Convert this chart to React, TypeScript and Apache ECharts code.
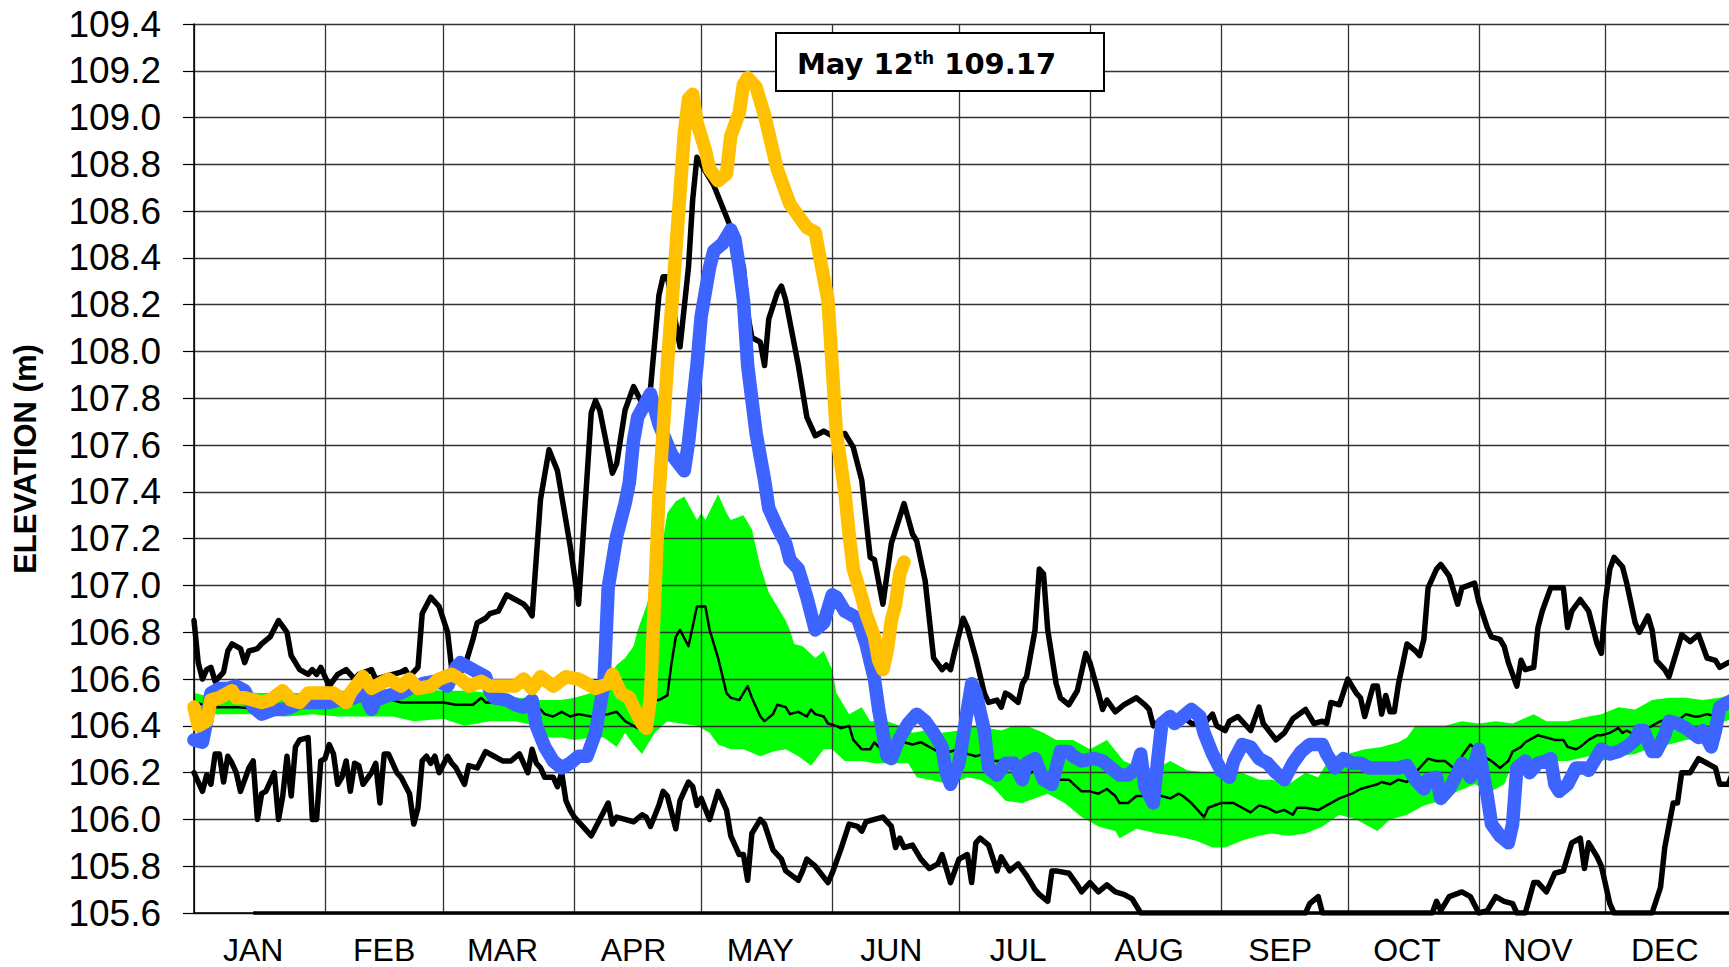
import React, { useEffect, useRef } from "react";
import * as echarts from "echarts";

// ---- axis definitions ----
const monthNames = ["JAN", "FEB", "MAR", "APR", "MAY", "JUN", "JUL", "AUG", "SEP", "OCT", "NOV", "DEC"];
const monthStarts = [0, 31, 59, 90, 120, 151, 181, 212, 243, 273, 304, 334];
const yMin = 105.6;
const yMax = 109.4;
const yStep = 0.2;
const xMax = 363.2;

// ---- annotation ----
const noteDate = "May 12";
const noteSuffix = "th";
const noteValue = "109.17";

// ---- data: [day of year, elevation m] ----
const maxLine: [number, number][] = [
  [0, 106.85], [1, 106.67], [2, 106.6], [3, 106.64], [4, 106.65], [5, 106.59], [7, 106.63], [8, 106.72], [9, 106.75],
  [11, 106.73], [12, 106.67], [13, 106.72], [15, 106.73], [16, 106.75], [18, 106.78], [20, 106.85], [22, 106.8],
  [23, 106.7], [25, 106.64], [27, 106.62], [28, 106.64], [29, 106.62], [30, 106.65], [32, 106.57], [34, 106.62],
  [36, 106.64], [38, 106.6], [39, 106.62], [42, 106.64], [43, 106.6], [45, 106.61], [47, 106.62], [49, 106.63],
  [50, 106.64], [51, 106.61], [53, 106.65], [54, 106.88], [56, 106.95], [58, 106.91], [60, 106.8], [61, 106.64],
  [62, 106.61], [64, 106.65], [66, 106.77], [67, 106.84], [69, 106.86], [70, 106.88], [72, 106.89], [74, 106.96],
  [76, 106.94], [78, 106.92], [79, 106.9], [80, 106.87], [81, 107.12], [82, 107.37], [84, 107.58], [86, 107.49],
  [89, 107.17], [91, 106.92], [94, 107.74], [95, 107.79], [96, 107.75], [99, 107.48], [100, 107.52], [102, 107.75],
  [104, 107.85], [106, 107.78], [108, 107.84], [110, 108.24], [111, 108.32], [112, 108.32], [115, 108.02],
  [117, 108.36], [118, 108.65], [119, 108.83], [123, 108.71], [127, 108.53], [130, 108.36], [131, 108.16],
  [132, 108.06], [134, 108.04], [135, 107.94], [136, 108.14], [138, 108.25], [139, 108.28], [140, 108.22],
  [143, 107.94], [145, 107.72], [147, 107.64], [149, 107.66], [151, 107.64], [154, 107.65], [156, 107.59],
  [158, 107.45], [160, 107.12], [161, 107.11], [163, 106.92], [165, 107.18], [168, 107.35], [170, 107.22],
  [171, 107.19], [173, 107.02], [175, 106.69], [177, 106.64], [178, 106.66], [179, 106.64], [180, 106.72],
  [182, 106.86], [183, 106.82], [185, 106.69], [187, 106.54], [188, 106.5], [190, 106.51], [191, 106.48],
  [192, 106.54], [193, 106.53], [195, 106.5], [196, 106.58], [197, 106.61], [199, 106.81], [200, 107.07],
  [201, 107.05], [202, 106.81], [204, 106.58], [205, 106.52], [207, 106.49], [209, 106.55], [211, 106.71],
  [212, 106.67], [214, 106.54], [215, 106.47], [216, 106.51], [218, 106.46], [220, 106.49], [223, 106.52],
  [225, 106.49], [226, 106.47], [227, 106.4], [229, 106.43], [232, 106.42], [234, 106.44], [236, 106.41],
  [239, 106.41], [241, 106.45], [242, 106.4], [244, 106.38], [245, 106.42], [247, 106.44], [250, 106.38],
  [252, 106.48], [253, 106.41], [256, 106.34], [258, 106.37], [260, 106.43], [263, 106.47], [265, 106.41],
  [267, 106.42], [268, 106.41], [269, 106.5], [271, 106.49], [273, 106.6], [275, 106.54], [276, 106.52],
  [277, 106.44], [279, 106.57], [280, 106.57], [281, 106.45], [282, 106.53], [283, 106.46], [284, 106.46],
  [285, 106.58], [287, 106.75], [289, 106.72], [290, 106.7], [291, 106.77], [292, 106.99], [294, 107.07],
  [295, 107.09], [297, 107.04], [299, 106.92], [300, 106.99], [303, 107.01], [304, 106.93], [306, 106.82],
  [307, 106.78], [309, 106.77], [310, 106.74], [311, 106.67], [313, 106.57], [314, 106.68], [315, 106.64],
  [317, 106.65], [318, 106.82], [319, 106.89], [321, 106.99], [324, 106.99], [325, 106.82], [326, 106.89],
  [328, 106.94], [330, 106.89], [332, 106.75], [333, 106.71], [334, 106.94], [335, 107.07], [336, 107.12],
  [338, 107.08], [339, 107.01], [341, 106.84], [342, 106.8], [344, 106.87], [345, 106.81], [346, 106.68],
  [348, 106.64], [349, 106.61], [350, 106.67], [352, 106.79], [354, 106.76], [356, 106.79], [358, 106.69],
  [360, 106.68], [361, 106.65], [363, 106.67], [365, 106.68],
];

const minLine: [number, number][] = [
  [0, 106.2], [2, 106.12], [3, 106.19], [4, 106.15], [5, 106.28], [6, 106.28], [7, 106.16], [8, 106.27], [9, 106.24],
  [10, 106.2], [11, 106.12], [13, 106.22], [14, 106.25], [15, 106.0], [16, 106.11], [17, 106.12], [19, 106.2],
  [20, 106.0], [21, 106.1], [22, 106.27], [23, 106.1], [24, 106.31], [25, 106.34], [27, 106.35], [28, 106.0],
  [29, 106.0], [30, 106.25], [31, 106.26], [32, 106.32], [33, 106.28], [34, 106.15], [35, 106.18], [36, 106.25],
  [37, 106.12], [38, 106.24], [39, 106.23], [40, 106.15], [42, 106.2], [43, 106.24], [44, 106.07], [45, 106.28],
  [46, 106.28], [48, 106.2], [49, 106.18], [51, 106.11], [52, 105.98], [53, 106.05], [54, 106.25], [55, 106.27],
  [56, 106.24], [57, 106.27], [58, 106.2], [60, 106.27], [61, 106.24], [62, 106.22], [64, 106.15], [65, 106.23],
  [67, 106.22], [69, 106.29], [71, 106.27], [73, 106.25], [75, 106.25], [77, 106.28], [79, 106.2], [80, 106.3],
  [81, 106.24], [82, 106.22], [83, 106.18], [85, 106.18], [86, 106.14], [87, 106.2], [88, 106.08], [89, 106.04],
  [90, 106.01], [92, 105.97], [94, 105.93], [96, 106.0], [98, 106.07], [99, 105.98], [100, 106.01], [102, 106.0],
  [104, 105.99], [106, 106.02], [107, 106.01], [108, 105.97], [110, 106.06], [111, 106.12], [112, 106.1],
  [114, 105.96], [115, 106.08], [117, 106.16], [118, 106.14], [119, 106.06], [120, 106.09], [122, 106.0],
  [124, 106.12], [126, 106.04], [127, 105.93], [129, 105.85], [130, 105.85], [131, 105.74], [132, 105.94],
  [134, 106.0], [135, 105.98], [137, 105.87], [139, 105.83], [140, 105.78], [143, 105.74], [144, 105.78],
  [145, 105.83], [147, 105.8], [150, 105.73], [151, 105.77], [153, 105.87], [155, 105.98], [157, 105.97],
  [158, 105.95], [159, 105.99], [161, 106.0], [163, 106.01], [165, 105.97], [166, 105.88], [167, 105.92],
  [168, 105.88], [170, 105.89], [172, 105.83], [174, 105.79], [176, 105.81], [177, 105.85], [179, 105.73],
  [181, 105.83], [183, 105.85], [184, 105.73], [185, 105.9], [186, 105.92], [188, 105.89], [190, 105.78],
  [191, 105.84], [193, 105.78], [195, 105.81], [197, 105.76], [199, 105.7], [200, 105.68], [202, 105.65],
  [203, 105.78], [204, 105.78], [207, 105.77], [209, 105.72], [210, 105.69], [212, 105.73], [214, 105.69],
  [216, 105.72], [218, 105.69], [220, 105.68], [222, 105.66], [224, 105.6], [263, 105.6], [264, 105.64],
  [266, 105.67], [267, 105.6], [293, 105.6], [294, 105.65], [295, 105.61], [297, 105.67], [300, 105.69],
  [302, 105.67], [304, 105.6], [306, 105.61], [308, 105.67], [310, 105.65], [312, 105.64], [313, 105.6],
  [315, 105.6], [317, 105.73], [318, 105.73], [320, 105.69], [322, 105.77], [324, 105.78], [326, 105.9],
  [328, 105.92], [329, 105.79], [330, 105.9], [332, 105.84], [333, 105.8], [335, 105.64], [336, 105.6],
  [345, 105.6], [347, 105.71], [348, 105.88], [350, 106.07], [351, 106.07], [352, 106.2], [354, 106.2],
  [356, 106.26], [358, 106.24], [360, 106.22], [361, 106.15], [363, 106.15], [365, 106.24],
];

const medianLine: [number, number][] = [
  [0, 106.5], [5, 106.48], [10, 106.48], [17, 106.47], [28, 106.48], [37, 106.5], [44, 106.52], [47, 106.51],
  [49, 106.5], [52, 106.5], [55, 106.5], [59, 106.5], [62, 106.49], [64, 106.49], [66, 106.49], [68, 106.52],
  [69, 106.5], [72, 106.5], [76, 106.48], [79, 106.48], [82, 106.47], [83, 106.45], [85, 106.44], [87, 106.46],
  [89, 106.44], [91, 106.45], [94, 106.44], [98, 106.45], [100, 106.46], [102, 106.42], [103, 106.41],
  [105, 106.39], [106, 106.4], [108, 106.51], [110, 106.51], [112, 106.53], [113, 106.67], [114, 106.78],
  [115, 106.81], [117, 106.74], [119, 106.91], [121, 106.91], [122, 106.81], [124, 106.69], [126, 106.54],
  [127, 106.52], [129, 106.51], [130, 106.54], [131, 106.57], [132, 106.52], [134, 106.44], [135, 106.42],
  [137, 106.45], [138, 106.49], [140, 106.48], [141, 106.45], [143, 106.46], [145, 106.44], [146, 106.47],
  [147, 106.45], [149, 106.44], [150, 106.41], [152, 106.4], [153, 106.39], [155, 106.4], [156, 106.34],
  [158, 106.3], [160, 106.3], [161, 106.33], [162, 106.31], [165, 106.32], [167, 106.3], [168, 106.33],
  [170, 106.32], [172, 106.33], [173, 106.32], [175, 106.3], [177, 106.28], [179, 106.29], [181, 106.3],
  [183, 106.28], [185, 106.27], [187, 106.28], [189, 106.25], [191, 106.25], [194, 106.22], [197, 106.19],
  [199, 106.21], [200, 106.2], [202, 106.17], [205, 106.17], [207, 106.17], [210, 106.12], [212, 106.12],
  [214, 106.11], [216, 106.13], [218, 106.1], [219, 106.07], [221, 106.07], [223, 106.1], [225, 106.1],
  [227, 106.1], [229, 106.1], [231, 106.09], [233, 106.11], [234, 106.1], [236, 106.07], [238, 106.03],
  [239, 106.01], [240, 106.05], [243, 106.07], [246, 106.07], [248, 106.05], [250, 106.03], [252, 106.06],
  [254, 106.05], [256, 106.03], [258, 106.04], [260, 106.02], [261, 106.05], [263, 106.05], [266, 106.04],
  [268, 106.06], [269, 106.07], [271, 106.09], [274, 106.11], [276, 106.13], [278, 106.14], [280, 106.15],
  [281, 106.16], [283, 106.15], [285, 106.17], [287, 106.16], [289, 106.2], [291, 106.24], [292, 106.26],
  [294, 106.25], [296, 106.25], [298, 106.22], [299, 106.22], [300, 106.27], [302, 106.32], [304, 106.29],
  [306, 106.26], [307, 106.25], [309, 106.22], [311, 106.25], [312, 106.29], [314, 106.31], [315, 106.33],
  [317, 106.35], [318, 106.36], [320, 106.35], [322, 106.34], [324, 106.34], [325, 106.31], [327, 106.3],
  [328, 106.31], [330, 106.34], [332, 106.36], [333, 106.36], [335, 106.37], [337, 106.39], [338, 106.37],
  [339, 106.38], [341, 106.36], [343, 106.38], [345, 106.4], [347, 106.42], [349, 106.43], [351, 106.42],
  [353, 106.45], [355, 106.44], [356, 106.44], [358, 106.45], [360, 106.44], [361, 106.47], [363, 106.49],
  [365, 106.5],
];

const bandUpper: [number, number][] = [
  [0, 106.54], [5, 106.52], [10, 106.55], [15, 106.54], [22, 106.54], [28, 106.54], [34, 106.55], [42, 106.55],
  [47, 106.56], [52, 106.56], [59, 106.55], [65, 106.55], [70, 106.54], [77, 106.52], [82, 106.51], [87, 106.51],
  [90, 106.52], [94, 106.54], [97, 106.58], [100, 106.66], [102, 106.69], [104, 106.74], [105, 106.81],
  [107, 106.91], [110, 107.09], [112, 107.31], [114, 107.36], [116, 107.38], [119, 107.28], [120, 107.31],
  [121, 107.28], [124, 107.39], [126, 107.31], [127, 107.28], [130, 107.3], [132, 107.24], [134, 107.08],
  [136, 106.97], [138, 106.91], [140, 106.85], [141, 106.81], [142, 106.75], [144, 106.74], [147, 106.69],
  [149, 106.72], [151, 106.64], [152, 106.54], [155, 106.45], [158, 106.48], [160, 106.42], [164, 106.42],
  [167, 106.4], [170, 106.37], [173, 106.38], [177, 106.37], [181, 106.38], [185, 106.4], [188, 106.39],
  [191, 106.38], [194, 106.4], [197, 106.4], [201, 106.37], [204, 106.34], [208, 106.34], [212, 106.3],
  [216, 106.34], [220, 106.25], [224, 106.22], [228, 106.22], [231, 106.25], [235, 106.21], [240, 106.2],
  [244, 106.2], [248, 106.2], [252, 106.17], [255, 106.17], [259, 106.15], [263, 106.2], [266, 106.18],
  [269, 106.27], [273, 106.28], [277, 106.3], [281, 106.31], [285, 106.33], [287, 106.35], [289, 106.4],
  [292, 106.4], [296, 106.4], [300, 106.42], [304, 106.41], [308, 106.42], [312, 106.41], [317, 106.45],
  [320, 106.42], [325, 106.42], [330, 106.44], [333, 106.45], [337, 106.48], [341, 106.47], [345, 106.51],
  [349, 106.52], [353, 106.52], [357, 106.51], [361, 106.52], [365, 106.54],
];

const bandLower: [number, number][] = [
  [0, 106.44], [5, 106.45], [10, 106.45], [15, 106.45], [22, 106.44], [28, 106.45], [34, 106.44], [42, 106.44],
  [47, 106.44], [52, 106.42], [59, 106.43], [64, 106.4], [70, 106.42], [76, 106.42], [81, 106.4], [84, 106.35],
  [87, 106.35], [90, 106.34], [94, 106.35], [97, 106.35], [100, 106.31], [102, 106.37], [104, 106.32],
  [106, 106.28], [109, 106.37], [112, 106.42], [115, 106.41], [119, 106.4], [122, 106.37], [124, 106.32],
  [127, 106.3], [130, 106.3], [134, 106.27], [137, 106.29], [140, 106.3], [143, 106.27], [146, 106.23],
  [149, 106.3], [151, 106.3], [154, 106.25], [158, 106.25], [161, 106.24], [165, 106.24], [169, 106.24],
  [171, 106.18], [174, 106.17], [179, 106.15], [183, 106.18], [186, 106.17], [189, 106.14], [192, 106.08],
  [196, 106.07], [199, 106.09], [202, 106.11], [206, 106.07], [210, 106.01], [214, 105.97], [218, 105.95],
  [219, 105.92], [223, 105.96], [228, 105.94], [232, 105.93], [237, 105.91], [241, 105.88], [244, 105.88],
  [248, 105.91], [252, 105.93], [255, 105.94], [259, 105.93], [263, 105.94], [267, 105.97], [271, 106.02],
  [275, 106.0], [280, 105.95], [283, 106.0], [287, 106.02], [291, 106.06], [295, 106.08], [299, 106.12],
  [303, 106.15], [307, 106.12], [310, 106.15], [312, 106.24], [316, 106.25], [320, 106.25], [325, 106.25],
  [330, 106.27], [333, 106.25], [337, 106.27], [341, 106.28], [345, 106.31], [349, 106.32], [353, 106.34],
  [357, 106.35], [361, 106.41], [365, 106.44],
];

const previousYear: [number, number][] = [
  [0, 106.34], [2, 106.33], [3, 106.42], [4, 106.54], [6, 106.56], [8, 106.56], [10, 106.57], [12, 106.55],
  [14, 106.48], [16, 106.45], [19, 106.47], [21, 106.47], [23, 106.48], [25, 106.5], [27, 106.5], [30, 106.5],
  [32, 106.5], [34, 106.51], [38, 106.52], [40, 106.55], [42, 106.47], [43, 106.51], [46, 106.53], [49, 106.54],
  [51, 106.56], [54, 106.58], [57, 106.59], [59, 106.58], [60, 106.57], [62, 106.65], [63, 106.67], [65, 106.65],
  [67, 106.63], [69, 106.61], [70, 106.55], [71, 106.52], [74, 106.51], [76, 106.49], [78, 106.48], [80, 106.51],
  [81, 106.4], [83, 106.31], [85, 106.25], [87, 106.22], [89, 106.24], [91, 106.27], [93, 106.27], [95, 106.37],
  [97, 106.58], [98, 106.99], [100, 107.21], [102, 107.35], [103, 107.44], [104, 107.62], [105, 107.72],
  [108, 107.82], [110, 107.69], [113, 107.56], [116, 107.49], [117, 107.61], [119, 107.94], [120, 108.15],
  [122, 108.36], [123, 108.43], [125, 108.46], [127, 108.52], [128, 108.48], [129, 108.36], [130, 108.22],
  [131, 107.94], [133, 107.65], [135, 107.45], [136, 107.33], [138, 107.25], [140, 107.18], [141, 107.11],
  [143, 107.07], [145, 106.95], [147, 106.81], [149, 106.84], [151, 106.96], [152, 106.95], [154, 106.89],
  [157, 106.86], [159, 106.75], [161, 106.6], [162, 106.47], [164, 106.27], [165, 106.26], [167, 106.35],
  [169, 106.41], [171, 106.45], [173, 106.42], [175, 106.37], [177, 106.31], [178, 106.2], [179, 106.15],
  [181, 106.24], [183, 106.47], [184, 106.58], [185, 106.54], [187, 106.38], [188, 106.22], [190, 106.19],
  [192, 106.24], [194, 106.24], [196, 106.17], [197, 106.24], [199, 106.26], [201, 106.17], [203, 106.15],
  [205, 106.29], [207, 106.29], [208, 106.27], [210, 106.25], [213, 106.26], [215, 106.25], [217, 106.22],
  [219, 106.19], [221, 106.19], [223, 106.22], [224, 106.28], [225, 106.14], [227, 106.07], [228, 106.25],
  [229, 106.41], [231, 106.44], [232, 106.41], [234, 106.44], [236, 106.47], [238, 106.44], [239, 106.37],
  [241, 106.28], [243, 106.21], [245, 106.18], [246, 106.25], [248, 106.32], [250, 106.31], [252, 106.26],
  [254, 106.24], [256, 106.2], [258, 106.17], [260, 106.24], [262, 106.29], [264, 106.32], [267, 106.32],
  [268, 106.28], [270, 106.22], [272, 106.26], [274, 106.24], [276, 106.24], [278, 106.22], [280, 106.22],
  [282, 106.22], [285, 106.22], [287, 106.23], [289, 106.17], [291, 106.13], [292, 106.17], [294, 106.18],
  [295, 106.09], [297, 106.13], [299, 106.2], [300, 106.24], [302, 106.18], [304, 106.3], [306, 106.1],
  [307, 105.98], [309, 105.93], [311, 105.9], [312, 105.98], [313, 106.22], [315, 106.25], [316, 106.2],
  [318, 106.24], [320, 106.25], [321, 106.26], [322, 106.15], [323, 106.12], [325, 106.15], [327, 106.22],
  [329, 106.22], [330, 106.21], [332, 106.27], [333, 106.3], [335, 106.28], [337, 106.29], [339, 106.31],
  [341, 106.34], [342, 106.38], [343, 106.38], [345, 106.29], [346, 106.29], [348, 106.36], [349, 106.42],
  [351, 106.41], [353, 106.39], [356, 106.35], [357, 106.38], [359, 106.31], [360, 106.38], [361, 106.48],
  [363, 106.5], [365, 106.52],
];

const currentYear: [number, number][] = [
  [0, 106.48], [1, 106.4], [3, 106.42], [4, 106.51], [6, 106.52], [9, 106.55], [10, 106.52], [12, 106.52],
  [14, 106.51], [16, 106.5], [18, 106.51], [21, 106.55], [23, 106.51], [25, 106.5], [27, 106.54], [30, 106.54],
  [33, 106.54], [36, 106.5], [37, 106.54], [40, 106.61], [42, 106.56], [44, 106.58], [46, 106.6], [49, 106.57],
  [51, 106.6], [53, 106.56], [56, 106.57], [58, 106.6], [61, 106.62], [63, 106.6], [65, 106.57], [68, 106.59],
  [70, 106.57], [73, 106.57], [76, 106.57], [78, 106.6], [80, 106.56], [82, 106.61], [85, 106.57], [88, 106.61],
  [91, 106.6], [93, 106.58], [95, 106.56], [98, 106.58], [99, 106.62], [101, 106.54], [103, 106.52],
  [104, 106.48], [106, 106.41], [107, 106.39], [108, 106.52], [109, 106.95], [110, 107.38], [111, 107.66],
  [112, 107.94], [114, 108.43], [116, 108.93], [117, 109.08], [118, 109.1], [119, 108.98], [121, 108.86],
  [122, 108.78], [124, 108.73], [126, 108.76], [127, 108.92], [129, 109.02], [130, 109.14], [131, 109.17],
  [133, 109.13], [135, 109.01], [138, 108.78], [140, 108.68], [141, 108.63], [143, 108.58], [145, 108.53],
  [147, 108.51], [148, 108.41], [150, 108.22], [151, 107.94], [152, 107.65], [154, 107.4], [155, 107.22],
  [156, 107.07], [158, 106.95], [159, 106.88], [161, 106.78], [162, 106.68], [163, 106.64], [164, 106.72],
  [165, 106.85], [166, 106.92], [167, 107.05], [168, 107.1],
];

const FONT = "'Liberation Sans', Arial, sans-serif";

export default function App() {
  const ref = useRef<HTMLDivElement>(null);

  useEffect(() => {
    if (!ref.current) return;
    const chart = echarts.init(ref.current, undefined, { renderer: "svg" });

    const lineSeries = (name: string, data: [number, number][], color: string, width: number, z: number) => ({
      name,
      type: "line",
      data,
      z,
      showSymbol: false,
      symbol: "none",
      silent: true,
      clip: true,
      lineStyle: { color, width, cap: "round", join: "round" },
    });

    const option: any = {
      animation: false,
      backgroundColor: "#ffffff",
      grid: { left: 194, right: 0, top: 24, bottom: 54, containLabel: false },
      xAxis: {
        type: "value",
        min: 0,
        max: xMax,
        z: 2,
        axisLine: { show: true, onZero: false, lineStyle: { color: "#000", width: 1.5 } },
        axisTick: { show: false, customValues: monthStarts },
        splitLine: { show: true, lineStyle: { color: "#333", width: 1.3 } },
        axisLabel: {
          customValues: monthStarts.map((d) => d + 14),
          formatter: (v: number) => {
            const i = monthStarts.findIndex((d) => d + 14 === v);
            return i >= 0 ? monthNames[i] : "";
          },
          color: "#000",
          fontFamily: FONT,
          fontSize: 32,
          margin: 21,
        },
      },
      yAxis: {
        type: "value",
        min: yMin,
        max: yMax,
        interval: yStep,
        z: 2,
        axisLine: { show: true, onZero: false, lineStyle: { color: "#000", width: 1.5 } },
        axisTick: { show: true, length: 11, inside: false, lineStyle: { color: "#000", width: 1.2 } },
        splitLine: { show: true, lineStyle: { color: "#333", width: 1.3 } },
        axisLabel: {
          formatter: (v: number) => v.toFixed(1),
          color: "#000",
          fontFamily: FONT,
          fontSize: 37,
          margin: 33,
        },
      },
      graphic: [
        {
          type: "text",
          x: 25,
          y: 459,
          rotation: Math.PI / 2,
          silent: true,
          style: {
            text: "ELEVATION (m)",
            fill: "#000",
            font: `bold 31px ${FONT}`,
            align: "center",
            verticalAlign: "middle",
          },
        },
        {
          type: "rect",
          shape: { x: 776, y: 33, width: 328, height: 58 },
          z: 100,
          silent: true,
          style: { fill: "#fff", stroke: "#000", lineWidth: 2 },
        },
        {
          type: "text",
          x: 797,
          y: 64,
          z: 101,
          silent: true,
          style: {
            text: `{a|${noteDate}}{s|${noteSuffix}}{a| ${noteValue}}`,
            verticalAlign: "middle",
            align: "left",
            rich: {
              a: { fontFamily: "'DejaVu Sans', Verdana, sans-serif", fontWeight: "bold", fontSize: 29, color: "#000" },
              s: {
                fontFamily: "'DejaVu Sans', Verdana, sans-serif",
                fontWeight: "bold",
                fontSize: 17,
                color: "#000",
                verticalAlign: "top",
              },
            },
          },
        },
      ],
      series: [
        {
          name: "Normal range",
          type: "custom",
          z: 1,
          silent: true,
          clip: true,
          data: [[0, 106.5]],
          encode: { x: 0, y: 1 },
          renderItem: (_params: any, api: any) => {
            const upper = bandUpper.map((p) => api.coord(p));
            const lower = bandLower.slice().reverse().map((p) => api.coord(p));
            return {
              type: "polygon",
              shape: { points: upper.concat(lower) },
              style: { fill: "#00ff00", stroke: "none" },
            };
          },
        },
        {
          ...lineSeries("Minimum", minLine, "#000", 5.5, 3),
          markLine: {
            silent: true,
            symbol: "none",
            label: { show: false },
            lineStyle: { color: "#000", width: 3.5, type: "solid" },
            data: [[{ coord: [14, yMin] }, { coord: [xMax, yMin] }]],
          },
        },
        lineSeries("Maximum", maxLine, "#000", 5.5, 3),
        lineSeries("Median", medianLine, "#000", 2.5, 3),
        lineSeries("Previous year", previousYear, "#3e64ff", 13.5, 4),
        lineSeries("Current year", currentYear, "#ffc000", 13.5, 5),
      ],
    };

    chart.setOption(option);
    return () => chart.dispose();
  }, []);

  return (
    <div
      ref={ref}
      style={{ position: "absolute", left: 0, top: 0, width: 1729, height: 967, background: "#fff" }}
    />
  );
}
